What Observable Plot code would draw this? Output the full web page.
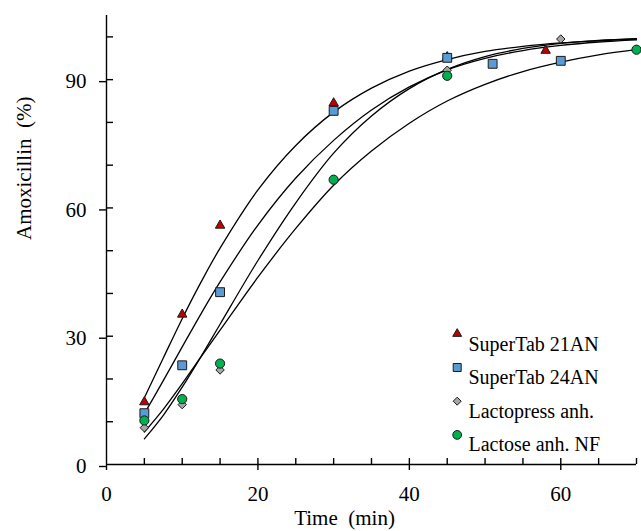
<!DOCTYPE html>
<html>
<head>
<meta charset="utf-8">
<script src="https://cdn.jsdelivr.net/npm/d3@7"></script>
<script src="https://cdn.jsdelivr.net/npm/@observablehq/plot@0.6"></script>
<style>
  html, body { margin: 0; padding: 0; background: #fff; }
  svg { display: block; }
</style>
</head>
<body>
<div id="chart"></div>
<script>
// Observed points (time in min, % amoxicillin dissolved)
const st21Time = [5, 10, 15, 30, 45, 58];
const st21Val  = [14.6, 35.1, 55.9, 84.5, 95.3, 96.8];
const st24Time = [5, 10, 15, 30, 45, 51, 60];
const st24Val  = [12.0, 23.2, 40.3, 82.7, 95.1, 93.7, 94.4];
const lpTime   = [5, 10, 15, 30, 45, 60];
const lpVal    = [8.6, 14.0, 22.1, 82.7, 92.2, 99.5];
const lacTime  = [5, 10, 15, 30, 45, 70];
const lacVal   = [10.3, 15.3, 23.6, 66.6, 90.9, 97.0];

// Fitted curves
const curveTime = [5, 7.5, 10, 12.5, 15, 20, 25, 30, 35, 40, 45, 50, 55, 60, 65, 70];
const st21Fit = [15.6, 24.9, 34.1, 42.7, 50.6, 64.2, 74.6, 82.4, 88.0, 92.0, 94.7, 96.6, 97.8, 98.6, 99.1, 99.5];
const st24Fit = [11.9, 19.6, 27.5, 35.3, 42.7, 56.0, 67.0, 75.8, 82.9, 88.3, 92.3, 95.0, 96.8, 98.0, 98.8, 99.3];
const lpFit   = [6.0, 11.5, 18.1, 25.3, 32.8, 47.7, 61.2, 72.8, 81.5, 87.9, 92.4, 95.4, 97.3, 98.5, 99.2, 99.6];
const lacFit  = [7.6, 12.9, 18.9, 25.2, 31.4, 43.8, 55.2, 65.3, 73.3, 79.8, 85.0, 88.9, 91.9, 94.1, 95.8, 97.0];

const legendLabels = ["SuperTab 21AN", "SuperTab 24AN", "Lactopress anh.", "Lactose anh. NF"];
const xMajorTicks = [0, 20, 40, 60];
const xMinorTicks = [5, 10, 15, 20, 25, 30, 35, 40, 45, 50, 55, 60, 65, 70];
const yMajorTicks = [0, 30, 60, 90];
const yMinorTicks = [10, 20, 30, 40, 50, 60, 70, 80, 90, 100];
const xTitle = "Time\u00a0 (min)";
const yTitle = "Amoxicillin\u00a0 (%)";

const zip = (xs, ys) => xs.map((x, i) => ({x, y: ys[i]}));

const styles = [
  {symbol: d3.symbolTriangle, fill: "#c00000", r: 3.5, lr: 3.3},
  {symbol: d3.symbolSquare, fill: "#5b9bd5", r: 5.0, lr: 4.5},
  {symbol: d3.symbolDiamond2, fill: "#a6a6a6", r: 3.8, lr: 3.6},
  {symbol: d3.symbolCircle, fill: "#00b050", r: 4.6, lr: 4.4}
];
const pointSets = [zip(st21Time, st21Val), zip(st24Time, st24Val), zip(lpTime, lpVal), zip(lacTime, lacVal)];
const fitSets = [zip(curveTime, st21Fit), zip(curveTime, st24Fit), zip(curveTime, lpFit), zip(curveTime, lacFit)];
const drawOrder = [2, 0, 1, 3];

const font = "'Liberation Serif', 'Times New Roman', serif";

const marks = [
  ...fitSets.map(d => Plot.line(d, {x: "x", y: "y", curve: "catmull-rom", stroke: "black", strokeWidth: 1.3})),
  Plot.ruleX([0], {stroke: "black", strokeWidth: 1.4}),
  Plot.ruleY([0], {stroke: "black", strokeWidth: 1.4}),
  Plot.axisY({ticks: yMajorTicks, tickSize: 7, tickPadding: 13, label: null, fontSize: 21, strokeWidth: 1.4, dy: 2}),
  Plot.axisY({ticks: yMinorTicks, tickSize: 7, dx: 7, tickFormat: () => "", label: null, strokeWidth: 1.4}),
  Plot.axisX({ticks: xMajorTicks, tickSize: 6, tickPadding: 16, label: null, fontSize: 21, strokeWidth: 1.4}),
  Plot.axisX({ticks: xMinorTicks, tickSize: 6, dy: -6, tickFormat: () => "", label: null, strokeWidth: 1.4}),
  ...drawOrder.map(i => Plot.dot(pointSets[i], {x: "x", y: "y", symbol: styles[i].symbol, r: styles[i].r, fill: styles[i].fill, stroke: "#1a1a1a", strokeWidth: 1})),
  ...legendLabels.map((lab, i) => Plot.dot([lab], {frameAnchor: "top-left", dx: 350.7, dy: 318.3 + i * 33.7, symbol: styles[i].symbol, r: styles[i].lr, fill: styles[i].fill, stroke: "#1a1a1a", strokeWidth: 1})),
  ...legendLabels.map((lab, i) => Plot.text([lab], {text: d => d, frameAnchor: "top-left", dx: 362, dy: 321.3 + i * 33.3, textAnchor: "start", fontSize: 20, fill: "black"})),
  Plot.text([yTitle], {text: d => d, frameAnchor: "left", rotate: -90, dx: -82, dy: 0, fontSize: 21, fill: "black"}),
  Plot.text([xTitle], {text: d => d, frameAnchor: "bottom", dx: -27, dy: 60, fontSize: 21, fill: "black"})
];

const chart = Plot.plot({
  width: 641,
  height: 531,
  marginLeft: 106,
  marginRight: 5,
  marginTop: 15,
  marginBottom: 67,
  x: {domain: [0, 70]},
  y: {domain: [0, 105]},
  style: {fontFamily: font, fontSize: "21px", color: "black", background: "white", overflow: "visible"},
  marks
});
document.getElementById("chart").appendChild(chart);
</script>
</body>
</html>
